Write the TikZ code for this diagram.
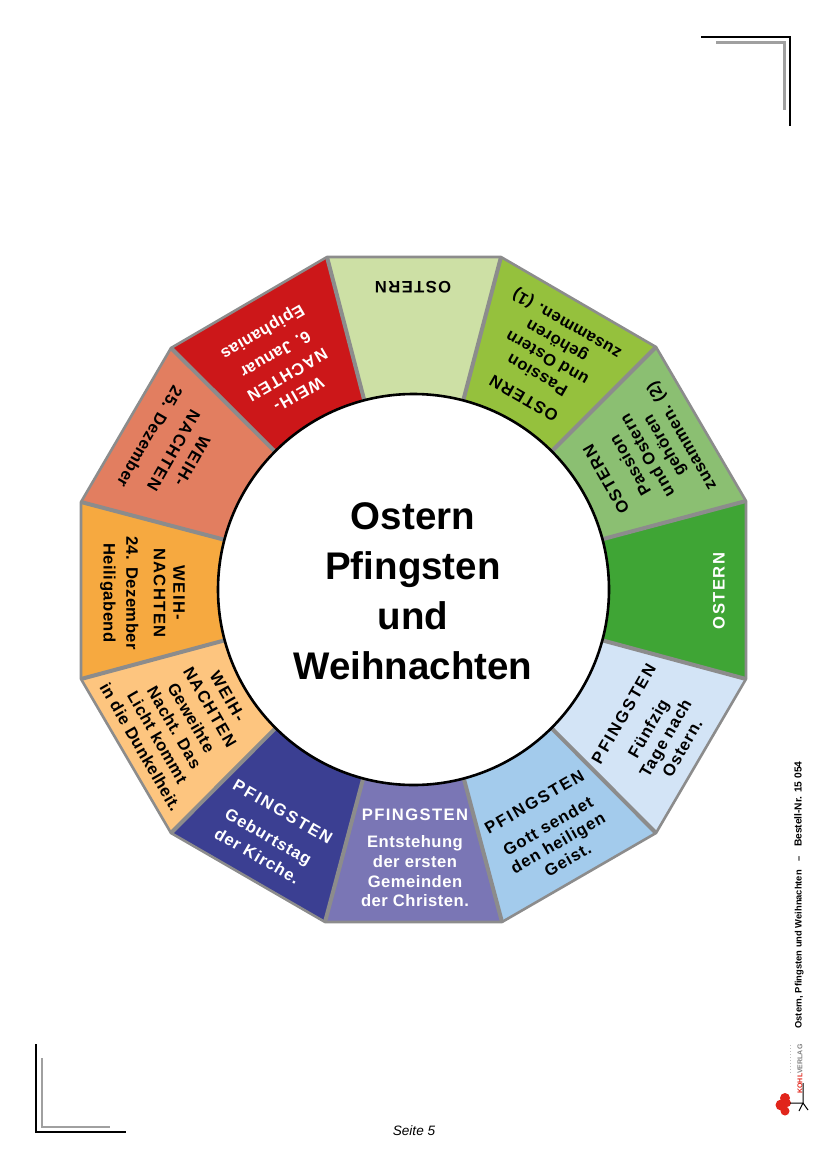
\documentclass[tikz,border=0pt]{standalone}
\usepackage{fontspec}
\setmainfont{Liberation Sans}
\newfontfamily\bodyfont[LetterSpace=3]{Liberation Sans}
\newfontfamily\looserfont[LetterSpace=5.5]{Liberation Sans}
\newfontfamily\headfont[LetterSpace=8.5]{Liberation Sans}
\newfontfamily\widerfont[LetterSpace=12.5]{Liberation Sans}
\usetikzlibrary{positioning, calc}

\definecolor{rimgrey}{HTML}{8C8C8C}
\definecolor{markgrey}{HTML}{A0A0A0}
\definecolor{kohlred}{HTML}{E1251B}

\newcommand{\headline}[1]{{\headfont #1}}
\newcommand{\wideline}[1]{{\widerfont #1}}

\begin{document}
\begin{tikzpicture}[
    x=1pt, y=-1pt,
    rimline/.style={draw=rimgrey, line width=2.6pt, line join=round},
    sepline/.style={draw=rimgrey, line width=4pt},
    wedgetext/.style={font=\bodyfont\bfseries\fontsize{16.6}{19.6}\selectfont, align=center, inner sep=0pt},
    loose/.style={font=\looserfont\bfseries\fontsize{16.6}{19.6}\selectfont},
    whitetext/.style={wedgetext, text=white},
    title/.style={font=\bfseries\fontsize{38.5}{50}\selectfont, align=center},
    blackmark/.style={draw=black, line width=2pt},
    greymark/.style={draw=markgrey, line width=2.5pt}
]
    \useasboundingbox (0,0) rectangle (827,1169);

    % --- Eckpunkte ---
    \coordinate (c) at (413.5,589.5);
    \coordinate (v1) at (327,257);
    \coordinate (v2) at (501,257);
    \coordinate (v3) at (656,347);
    \coordinate (v4) at (746,501);
    \coordinate (v5) at (746,679);
    \coordinate (v6) at (656,833);
    \coordinate (v7) at (502,922);
    \coordinate (v8) at (325,922);
    \coordinate (v9) at (171,833);
    \coordinate (v10) at (81,679);
    \coordinate (v11) at (81,502);
    \coordinate (v12) at (171,348);

    % --- Segmente ---
    \fill [fill={rgb,255:red,205;green,224;blue,165}] (c) -- (v1) -- (v2) -- cycle;
    \fill [fill={rgb,255:red,149;green,193;blue,61}] (c) -- (v2) -- (v3) -- cycle;
    \fill [fill={rgb,255:red,139;green,191;blue,114}] (c) -- (v3) -- (v4) -- cycle;
    \fill [fill={rgb,255:red,63;green,165;blue,53}] (c) -- (v4) -- (v5) -- cycle;
    \fill [fill={rgb,255:red,211;green,228;blue,246}] (c) -- (v5) -- (v6) -- cycle;
    \fill [fill={rgb,255:red,163;green,203;blue,236}] (c) -- (v6) -- (v7) -- cycle;
    \fill [fill={rgb,255:red,122;green,118;blue,181}] (c) -- (v7) -- (v8) -- cycle;
    \fill [fill={rgb,255:red,59;green,63;blue,146}] (c) -- (v8) -- (v9) -- cycle;
    \fill [fill={rgb,255:red,253;green,197;blue,127}] (c) -- (v9) -- (v10) -- cycle;
    \fill [fill={rgb,255:red,246;green,169;blue,64}] (c) -- (v10) -- (v11) -- cycle;
    \fill [fill={rgb,255:red,226;green,126;blue,96}] (c) -- (v11) -- (v12) -- cycle;
    \fill [fill={rgb,255:red,204;green,23;blue,25}] (c) -- (v12) -- (v1) -- cycle;

    % --- Trennlinien und Rand ---
    \draw [sepline] (c) -- (v1);
    \draw [sepline] (c) -- (v2);
    \draw [sepline] (c) -- (v3);
    \draw [sepline] (c) -- (v4);
    \draw [sepline] (c) -- (v5);
    \draw [sepline] (c) -- (v6);
    \draw [sepline] (c) -- (v7);
    \draw [sepline] (c) -- (v8);
    \draw [sepline] (c) -- (v9);
    \draw [sepline] (c) -- (v10);
    \draw [sepline] (c) -- (v11);
    \draw [sepline] (c) -- (v12);
    \draw [rimline] (v1) -- (v2) -- (v3) -- (v4) -- (v5) -- (v6) -- (v7) -- (v8) -- (v9) -- (v10) -- (v11) -- (v12) -- cycle;

    % --- Mitte ---
    \node [circle, draw=black, fill=white, line width=2.6pt, minimum size=391pt] (hub) at (c) {};
    \node [title] (hubtitle) at (413,591) {Ostern\\Pfingsten\\und\\Weihnachten};

    % --- Texte ---
    \node [wedgetext, rotate=180] (osterntop) at (413,287) {\headline{OSTERN}};
    \node [wedgetext, rotate=150] (osternone) at (546,360) {\headline{OSTERN}\\[7pt]Passion\\und Ostern\\gehören\\zusammen. (1)};
    \node [wedgetext, rotate=120] (osterntwo) at (645,457) {\headline{OSTERN}\\[8pt]Passion\\und Ostern\\gehören\\zusammen. (2)};
    \node [whitetext, rotate=90] (osternright) at (719,591) {\headline{OSTERN}};
    \node [wedgetext, loose, rotate=60] (pfingstenfive) at (653,731) {\wideline{PFINGSTEN}\\[9pt]Fünfzig\\Tage nach\\Ostern.};
    \node [wedgetext, loose, rotate=30] (pfingstengeist) at (551,831) {\wideline{PFINGSTEN}\\[8pt]Gott sendet\\den heiligen\\Geist.};
    \node [whitetext] (pfingstenchurch) at (415,858) {\headline{PFINGSTEN}\\[7.5pt]Entstehung\\der ersten\\Gemeinden\\der Christen.};
    \node [whitetext, loose, rotate=-30] (pfingstenbirth) at (270,834) {\wideline{PFINGSTEN}\\[9pt]Geburtstag\\[3pt]der Kirche.};
    \node [wedgetext, rotate=-60] (weihnight) at (184,722) {\headline{WEIH-}\\[1pt]\headline{NACHTEN}\\[2pt]Geweihte\\Nacht. Das\\Licht kommt\\in die Dunkelheit.};
    \node [wedgetext, rotate=-90] (weih24) at (142.5,593) {\headline{WEIH-}\\\headline{NACHTEN}\\[8pt]24. Dezember\\[3pt]Heiligabend};
    \node [wedgetext, rotate=-120] (weih25) at (171,449) {\headline{WEIH-}\\[2pt]\headline{NACHTEN}\\[8pt]25. Dezember};
    \node [whitetext, rotate=-150] (weih6) at (280,362) {\headline{WEIH-}\\[3pt]\headline{NACHTEN}\\[4pt]6. Januar\\[6pt]Epiphanias};

    % --- Eckmarken ---
    \draw [blackmark] (701,37) -- (790,37) -- (790,126);
    \draw [greymark] (716,42.5) -- (784.5,42.5) -- (784.5,110);
    \draw [blackmark] (36,1044) -- (36,1132) -- (126,1132);
    \draw [greymark] (42,1058) -- (42,1127) -- (110,1127);

    % --- Fusszeile ---
    \node [font=\itshape\fontsize{13.6}{16}\selectfont] (seite) at (414,1131) {Seite 5};
    \node [font=\bfseries\fontsize{9.36}{11}\selectfont, rotate=90] (bestell) at (799,895) {Ostern, Pfingsten und Weihnachten\hspace{9pt}–\hspace{9pt}{\fontsize{10.2}{11}\selectfont Bestell-Nr. 15 054}};

    % --- Logo ---
    \node [font=\bfseries\fontsize{7}{8}\selectfont, rotate=90, inner sep=0pt] (kohl) at (800,1069) {\textcolor{kohlred}{KOHL}\textcolor{gray}{VERLAG}};
    \draw [lightgray, line width=1pt, dotted] (790,1045) -- (790,1073);
    \fill [kohlred] (785,1098) circle (5pt) (781,1105) circle (5.5pt) (785,1111) circle (4.5pt) (787,1103) circle (4pt);
    \draw [black, line width=1pt] (790,1103) -- (803,1103) -- (808,1110);
    \draw [black, line width=1pt] (803,1083) -- (803,1103) -- (799,1111);

\end{tikzpicture}
\end{document}
